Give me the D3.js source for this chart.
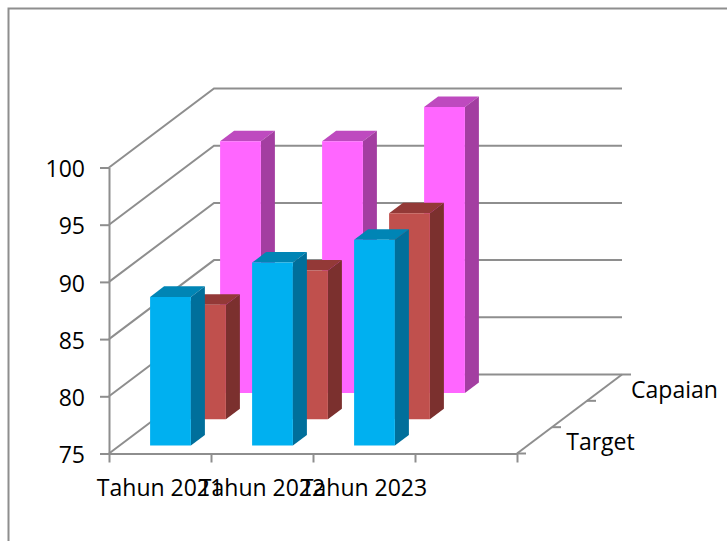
<!DOCTYPE html>
<html>
<head>
<meta charset="utf-8">
<script src="https://cdn.jsdelivr.net/npm/d3@7"></script>
<style>
  html, body { margin: 0; padding: 0; background: #fff; }
  svg { display: block; }
  text { font-family: "Open Sans", sans-serif; font-size: 23px; fill: #000; }
</style>
</head>
<body>
<svg id="chart" width="727" height="541"></svg>
<script>
// last category is an empty slot, the chart leaves room for it
var categories = ["Tahun 2021", "Tahun 2022", "Tahun 2023", ""];
var depthLabels = ["Target", "", "Capaian"];
var yTicks = [75, 80, 85, 90, 95, 100];

var seriesFront = [88, 91, 93];
var seriesMiddle = [85, 88, 93];
var seriesBack = [97, 97, 100];

var svg = d3.select("#chart");
var gridColor = "#8e8e8e";
var lineWidth = 2;

// plot box, front plane of the 3d floor
var plotLeft = 109, plotRight = 517, plotBottom = 453.5, plotTop = 167.5;
var depthX = 105, depthY = 79;

var x = d3.scaleBand().domain(categories).range([plotLeft, plotRight])
  .paddingInner(0.6).paddingOuter(0.3);
var xEdge = d3.scaleLinear().domain([0, categories.length]).range([plotLeft, plotRight]);
var y = d3.scaleLinear().domain([75, 100]).range([plotBottom, plotTop]);
var z = d3.scaleBand().domain(d3.range(depthLabels.length)).range([0, 1])
  .paddingInner(0.6).paddingOuter(0.3);
var zEdge = d3.scaleLinear().domain([0, depthLabels.length]).range([0, 1]);

// chart frame, right and bottom run off the picture
svg.append("path")
  .attr("d", "M8.5,541V8.5H727")
  .attr("fill", "none")
  .attr("stroke", gridColor)
  .attr("stroke-width", 2);

var walls = svg.append("g")
  .attr("fill", "none")
  .attr("stroke", gridColor)
  .attr("stroke-width", lineWidth);

// side wall and back wall gridlines
walls.selectAll("path.grid")
  .data(yTicks)
  .enter().append("path")
    .attr("class", "grid")
    .attr("d", function(d) {
      return "M" + plotLeft + "," + y(d)
        + "L" + (plotLeft + depthX) + "," + (y(d) - depthY)
        + "H" + (plotRight + depthX);
    });

// right edge of the floor
walls.append("path")
  .attr("d", "M" + plotRight + "," + plotBottom + "L" + (plotRight + depthX) + "," + (plotBottom - depthY));

function pt(px, d, val) {
  return [px + depthX * d, y(val) - depthY * d];
}
var poly = d3.line();

function drawSeries(values, s, colors) {
  var g = svg.append("g").attr("class", "series-" + s);
  var d0 = z(s), d1 = z(s) + z.bandwidth();
  var w = x.bandwidth();
  var bars = g.selectAll("g")
    .data(values)
    .enter().append("g");

  bars.append("path")
    .attr("fill", colors.top)
    .attr("d", function(v, i) {
      var a = x(categories[i]);
      return poly([pt(a, d0, v), pt(a + w, d0, v), pt(a + w, d1, v), pt(a, d1, v)]) + "Z";
    });
  bars.append("path")
    .attr("fill", colors.side)
    .attr("d", function(v, i) {
      var a = x(categories[i]) + w;
      return poly([pt(a, d0, v), pt(a, d1, v), pt(a, d1, 75), pt(a, d0, 75)]) + "Z";
    });
  bars.append("path")
    .attr("fill", colors.front)
    .attr("d", function(v, i) {
      var a = x(categories[i]);
      return poly([pt(a, d0, v), pt(a + w, d0, v), pt(a + w, d0, 75), pt(a, d0, 75)]) + "Z";
    });
}

drawSeries(seriesBack, 2, { front: "#ff66ff", side: "#a33ea1", top: "#be4abf" });
drawSeries(seriesMiddle, 1, { front: "#c0504d", side: "#7b302e", top: "#933937" });
drawSeries(seriesFront, 0, { front: "#00b0f0", side: "#006f9b", top: "#0085b5" });

function styleAxis(g) {
  g.selectAll(".domain, .tick line")
    .attr("stroke", gridColor)
    .attr("stroke-width", lineWidth);
}

// value axis
var yAxis = svg.append("g")
  .attr("transform", "translate(" + plotLeft + ",0)")
  .call(d3.axisLeft(y).tickValues(yTicks).tickSize(9).tickSizeOuter(0).tickPadding(15))
  .call(styleAxis);
yAxis.attr("font-size", null).attr("font-family", null);
yAxis.selectAll("text").attr("dy", "0.4em");

// category axis: ticks on the band edges, labels on the band centres
svg.append("g")
  .attr("transform", "translate(0," + plotBottom + ")")
  .call(d3.axisBottom(xEdge).ticks(categories.length).tickSize(9).tickSizeOuter(0).tickFormat(""))
  .call(styleAxis);
var xLabels = svg.append("g")
  .attr("transform", "translate(0," + plotBottom + ")")
  .call(d3.axisBottom(x).tickSize(0).tickPadding(26.5));
xLabels.attr("font-size", null).attr("font-family", null);
xLabels.select(".domain").remove();

// depth axis along the floor edge
var zTicks = svg.append("g")
  .attr("fill", "none")
  .attr("stroke", gridColor)
  .attr("stroke-width", lineWidth);
zTicks.selectAll("line")
  .data(d3.range(depthLabels.length + 1))
  .enter().append("line")
    .attr("x1", function(d) { return plotRight + depthX * zEdge(d); })
    .attr("x2", function(d) { return plotRight + depthX * zEdge(d) + 9; })
    .attr("y1", function(d) { return plotBottom - depthY * zEdge(d); })
    .attr("y2", function(d) { return plotBottom - depthY * zEdge(d); });

// the middle series has no label in the picture, the axis skips it
svg.append("g").selectAll("text")
  .data(depthLabels)
  .enter().append("text")
    .attr("text-anchor", "middle")
    .attr("x", function(d, i) { return plotRight + depthX * (z(i) + z.bandwidth() / 2) + (i ? 70 : 66); })
    .attr("y", function(d, i) { return plotBottom - depthY * (z(i) + z.bandwidth() / 2) + 2.5; })
    .attr("dy", "0.32em")
    .text(function(d) { return d; });
</script>
</body>
</html>
